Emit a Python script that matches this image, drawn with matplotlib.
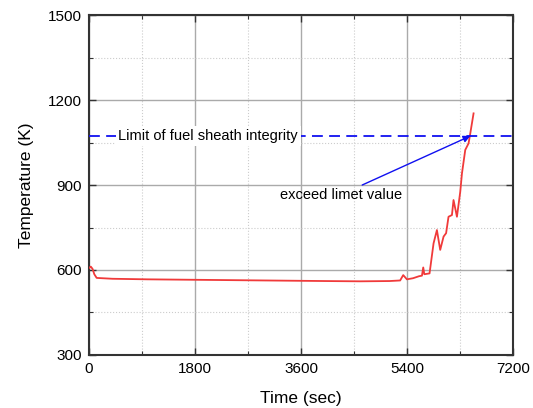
import matplotlib
matplotlib.use("Agg")
import matplotlib.pyplot as plt
from matplotlib.ticker import MultipleLocator

plt.rcParams["font.family"] = ["Liberation Sans", "DejaVu Sans"]

# clad temperature history
time_s = [0, 30, 60, 90, 130, 400, 1000, 2000, 3000, 4000, 4600, 5100, 5280, 5332,
          5395, 5500, 5600, 5650, 5672, 5690, 5779, 5847, 5904, 5960, 6017, 6060,
          6101, 6159, 6186, 6244, 6300, 6329, 6385, 6441, 6470, 6526]
temp_k = [607, 612, 604, 585, 572, 569, 567, 565, 563, 561, 560, 561, 563, 582,
          567, 571, 578, 580, 609, 585, 588, 694, 741, 671, 718, 730,
          788, 794, 847, 788, 876, 941, 1024, 1047, 1082, 1153]

limit_k = 1073
xticks = [0, 1800, 3600, 5400, 7200]
yticks = [300, 600, 900, 1200, 1500]

fig = plt.figure(figsize=(5.33, 4.08), dpi=100)
ax = fig.add_axes([0.167, 0.130, 0.796, 0.833])

ax.plot(time_s, temp_k, color="#f03a3a", linewidth=1.3, zorder=3)
ax.axhline(limit_k, color="#1010f0", linestyle=(0, (6, 3.5)), linewidth=1.3, zorder=3)

ax.text(2021, limit_k, "Limit of fuel sheath integrity", fontsize=10.5,
        ha="center", va="center", zorder=4,
        bbox=dict(facecolor="white", edgecolor="none", pad=2))
ax.annotate("", xy=(6470, limit_k), xytext=(4636, 900), zorder=4,
            arrowprops=dict(arrowstyle="-|>", color="#1010f0", lw=1.0,
                            mutation_scale=10, shrinkA=0, shrinkB=0))
ax.text(4279, 888, "exceed limet value", fontsize=10.5,
        ha="center", va="top", zorder=4)

ax.set_xlim(0, 7200)
ax.set_ylim(300, 1500)
ax.set_xticks(xticks)
ax.set_yticks(yticks)
ax.xaxis.set_minor_locator(MultipleLocator(900))
ax.yaxis.set_minor_locator(MultipleLocator(150))
ax.grid(which="major", color="#aaaaaa", linewidth=1.0)
ax.grid(which="minor", color="#cccccc", linestyle=":", linewidth=0.8)
ax.tick_params(which="both", direction="in", top=True, right=True,
               labelsize=11, color="#333333")
ax.tick_params(which="major", length=5, width=1.0, pad=5)
ax.tick_params(which="minor", length=3, width=0.8)
for sp in ax.spines.values():
    sp.set_linewidth(1.5)
    sp.set_color("#333333")

ax.set_xlabel("Time (sec)", fontsize=12.5, labelpad=11)
ax.set_ylabel("Temperature (K)", fontsize=12.5, labelpad=10)

fig.savefig("out.png", dpi=100)
